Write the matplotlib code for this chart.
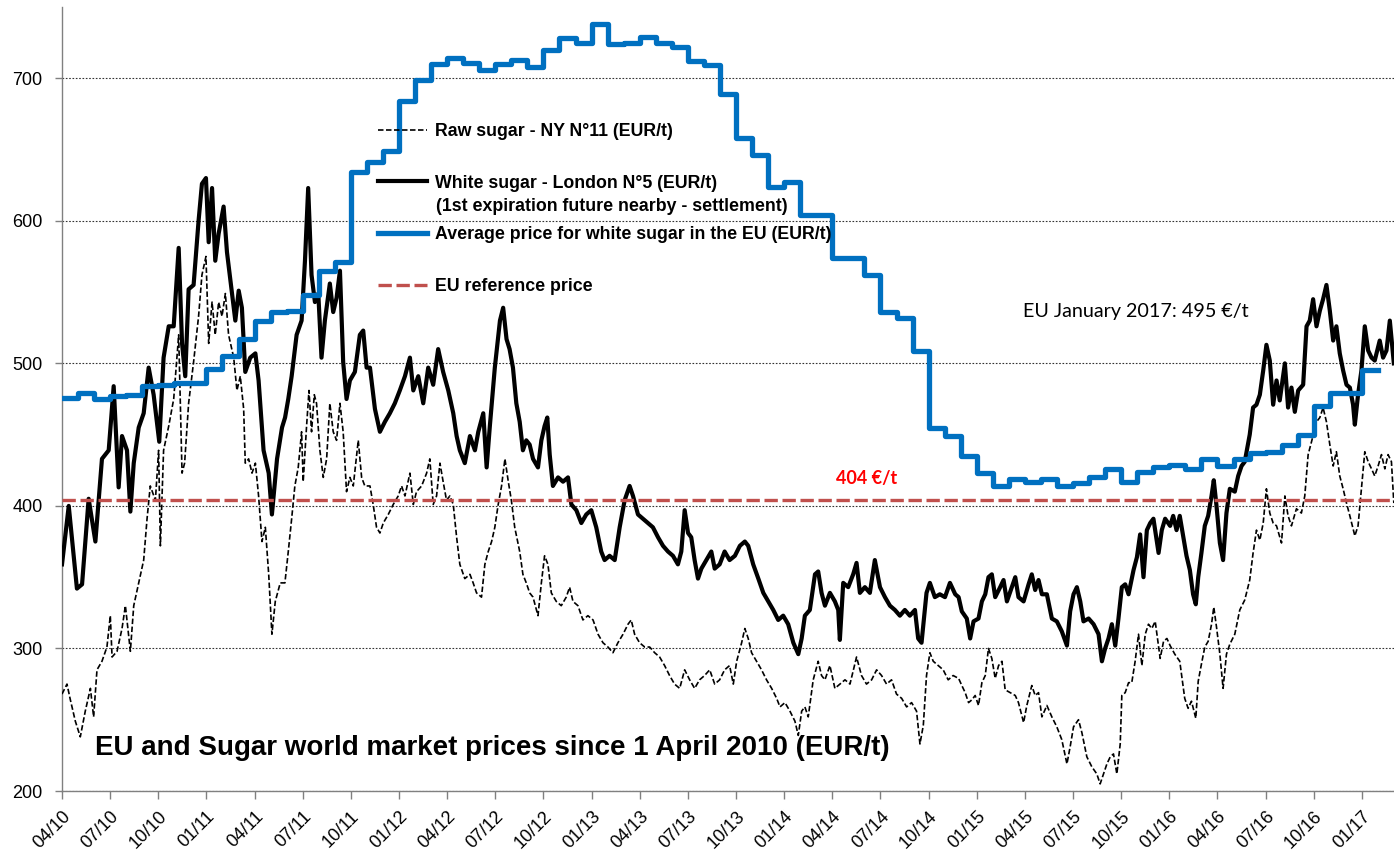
import matplotlib
matplotlib.use('Agg')
import matplotlib.pyplot as plt

plt.rcParams['font.family'] = ['Liberation Sans', 'DejaVu Sans']

# x positions are months since 1 April 2010 (0 = 04/10)
tick_months = list(range(0, 82, 3))
tick_labels = ['04/10', '07/10', '10/10', '01/11', '04/11', '07/11', '10/11',
               '01/12', '04/12', '07/12', '10/12', '01/13', '04/13', '07/13',
               '10/13', '01/14', '04/14', '07/14', '10/14', '01/15', '04/15',
               '07/15', '10/15', '01/16', '04/16', '07/16', '10/16', '01/17']

# monthly EU average price for white sugar, Apr 2010 .. Jan 2017
eu_avg = [476, 479, 475, 477, 478, 484, 485, 486, 486, 496,
          505, 517, 530, 536, 537, 548, 565, 571, 634, 641,
          649, 684, 699, 710, 714, 711, 706, 710, 713, 708,
          720, 728, 725, 738, 724, 725, 729, 725, 722, 712,
          709, 689, 658, 646, 624, 627, 604, 604, 574, 574,
          562, 536, 532, 509, 455, 449, 435, 423, 414, 419,
          417, 419, 414, 416, 420, 426, 417, 424, 427, 429,
          426, 433, 428, 433, 437, 438, 443, 450, 470, 479,
          479, 495]

ref_price = 404

# white sugar London N°5
white_m = [0.00, 0.42, 0.93, 1.25, 1.66, 2.08, 2.49, 2.91, 3.22, 3.53, 3.74, 4.05, 4.26, 4.47, 4.78,
           5.09, 5.40, 5.71, 6.06, 6.33, 6.65, 6.96, 7.27, 7.48, 7.68, 7.89, 8.20, 8.51, 8.72, 8.97,
           9.14, 9.35, 9.55, 9.76, 10.07, 10.28, 10.59, 10.80, 11.01, 11.21, 11.42, 11.73, 12.05, 12.25, 12.56,
           12.88, 13.08, 13.40, 13.71, 13.90, 14.10, 14.31, 14.62, 14.93, 15.14, 15.34, 15.55, 15.76, 15.97, 16.17,
           16.38, 16.69, 16.90, 17.11, 17.32, 17.52, 17.73, 17.94, 18.25, 18.56, 18.77, 18.98, 19.19, 19.50, 19.81,
           20.12, 20.43, 20.74, 21.05, 21.37, 21.68, 21.89, 22.20, 22.51, 22.82, 23.13, 23.44, 23.75, 24.07, 24.38,
           24.59, 24.79, 25.10, 25.42, 25.73, 25.94, 26.25, 26.46, 26.66, 26.97, 27.29, 27.49, 27.70, 27.89, 28.10,
           28.31, 28.52, 28.72, 28.93, 29.14, 29.35, 29.66, 29.87, 30.07, 30.24, 30.39, 30.59, 30.91, 31.22, 31.53,
           31.74, 32.05, 32.36, 32.67, 32.98, 33.29, 33.60, 33.81, 34.12, 34.44, 34.75, 35.06, 35.37, 35.58, 35.89,
           36.20, 36.51, 36.82, 37.14, 37.45, 37.76, 38.07, 38.38, 38.59, 38.80, 39.01, 39.21, 39.42, 39.63, 39.84,
           40.15, 40.46, 40.67, 40.98, 41.29, 41.60, 41.93, 42.24, 42.55, 42.76, 43.07, 43.39, 43.70, 44.01, 44.32,
           44.63, 44.94, 45.25, 45.57, 45.88, 46.09, 46.29, 46.60, 46.92, 47.12, 47.33, 47.54, 47.85, 48.16, 48.37,
           48.47, 48.68, 48.99, 49.30, 49.51, 49.72, 50.03, 50.34, 50.65, 50.97, 51.28, 51.59, 51.90, 52.21, 52.52,
           52.83, 53.15, 53.35, 53.56, 53.87, 54.08, 54.39, 54.70, 55.02, 55.33, 55.66, 55.87, 56.07, 56.38, 56.59,
           56.80, 57.11, 57.32, 57.53, 57.73, 57.94, 58.15, 58.46, 58.67, 58.88, 59.19, 59.40, 59.60, 59.92, 60.23,
           60.43, 60.64, 60.85, 61.06, 61.37, 61.68, 61.99, 62.30, 62.62, 62.82, 63.03, 63.24, 63.45, 63.65, 63.97,
           64.28, 64.59, 64.80, 65.00, 65.21, 65.42, 65.63, 65.83, 66.04, 66.25, 66.46, 66.77, 66.98, 67.18, 67.39,
           67.60, 67.81, 68.01, 68.33, 68.53, 68.74, 69.05, 69.24, 69.45, 69.65, 69.86, 70.07, 70.28, 70.48, 70.65,
           70.80, 71.00, 71.21, 71.42, 71.63, 71.77, 71.94, 72.15, 72.35, 72.56, 72.77, 73.08, 73.29, 73.50, 73.70,
           74.01, 74.22, 74.43, 74.64, 74.85, 75.05, 75.26, 75.47, 75.68, 75.88, 76.20, 76.40, 76.61, 76.82, 77.03,
           77.34, 77.55, 77.75, 77.96, 78.17, 78.38, 78.58, 78.79, 79.00, 79.21, 79.41, 79.62, 79.83, 80.04, 80.25,
           80.45, 80.56, 80.76, 80.97, 81.18, 81.39, 81.60, 81.80, 82.11, 82.32, 82.53, 82.74, 82.99]
white_v = [359, 400, 342, 345, 405, 375, 433, 439, 484, 413, 449, 439, 396, 430, 455,
           465, 497, 478, 445, 504, 526, 526, 581, 514, 491, 552, 555, 600, 626, 630,
           585, 623, 572, 591, 610, 578, 549, 530, 551, 539, 494, 504, 507, 488, 439,
           423, 394, 433, 455, 462, 475, 491, 520, 530, 572, 623, 562, 543, 549, 504,
           530, 556, 536, 546, 565, 501, 475, 488, 494, 520, 523, 497, 497, 468, 452,
           459, 465, 472, 481, 491, 504, 481, 491, 472, 497, 485, 510, 494, 481, 465,
           449, 439, 430, 449, 439, 452, 465, 427, 456, 497, 530, 539, 517, 510, 497,
           472, 459, 439, 446, 443, 433, 427, 446, 456, 462, 436, 414, 420, 417, 420,
           401, 397, 388, 394, 397, 385, 368, 362, 365, 362, 385, 404, 414, 407, 394,
           391, 388, 385, 378, 372, 368, 365, 359, 368, 397, 381, 378, 362, 349, 356,
           362, 368, 356, 359, 368, 362, 365, 372, 375, 372, 359, 349, 339, 333, 327,
           320, 323, 317, 304, 296, 307, 323, 327, 352, 354, 339, 330, 339, 333, 327,
           306, 346, 343, 352, 360, 339, 343, 339, 362, 343, 336, 330, 327, 323, 327,
           323, 327, 307, 304, 339, 346, 336, 338, 336, 346, 338, 336, 326, 321, 307,
           319, 321, 333, 338, 350, 352, 336, 343, 348, 333, 343, 350, 336, 333, 345,
           352, 341, 348, 338, 338, 321, 319, 312, 302, 326, 338, 343, 333, 319, 321,
           317, 310, 291, 300, 307, 317, 302, 321, 343, 345, 338, 355, 364, 380, 350,
           383, 388, 391, 367, 383, 391, 386, 393, 383, 393, 379, 365, 355, 338, 331,
           350, 367, 386, 393, 407, 418, 400, 374, 362, 395, 412, 410, 421, 428, 431,
           450, 469, 471, 478, 495, 513, 502, 471, 488, 474, 500, 469, 483, 466, 481,
           485, 526, 530, 545, 526, 537, 545, 555, 537, 516, 526, 507, 495, 485, 483,
           471, 457, 478, 495, 526, 509, 504, 502, 516, 504, 509, 530, 500]

# raw sugar NY N°11
raw_m = [0.00, 0.31, 0.52, 0.83, 1.14, 1.45, 1.77, 1.97, 2.18, 2.49, 2.80, 3.01, 3.12, 3.43, 3.74,
         3.95, 4.26, 4.47, 4.78, 5.09, 5.30, 5.50, 5.82, 6.02, 6.13, 6.33, 6.65, 6.96, 7.27, 7.48,
         7.64, 7.89, 8.20, 8.51, 8.72, 8.97, 9.14, 9.35, 9.55, 9.76, 9.97, 10.18, 10.38, 10.70, 10.90,
         11.11, 11.32, 11.42, 11.63, 11.84, 12.05, 12.25, 12.46, 12.67, 12.88, 13.08, 13.29, 13.60, 13.89, 14.10,
         14.31, 14.51, 14.72, 14.93, 15.03, 15.24, 15.39, 15.55, 15.72, 15.86, 16.07, 16.28, 16.49, 16.69, 16.90,
         17.11, 17.32, 17.52, 17.73, 17.94, 18.15, 18.46, 18.67, 18.87, 19.19, 19.39, 19.60, 19.81, 20.02, 20.33,
         20.64, 20.95, 21.16, 21.37, 21.68, 21.89, 22.09, 22.41, 22.72, 22.92, 23.13, 23.34, 23.55, 23.75, 23.96,
         24.17, 24.38, 24.59, 24.79, 25.10, 25.42, 25.62, 25.83, 26.14, 26.35, 26.56, 26.77, 26.97, 27.18, 27.39,
         27.60, 27.81, 28.00, 28.21, 28.52, 28.72, 28.93, 29.14, 29.35, 29.66, 29.87, 30.07, 30.28, 30.49, 30.80,
         31.11, 31.42, 31.63, 31.84, 32.15, 32.46, 32.77, 33.09, 33.40, 33.71, 34.02, 34.33, 34.64, 34.96, 35.27,
         35.47, 35.68, 35.99, 36.31, 36.62, 36.93, 37.24, 37.55, 37.86, 38.17, 38.49, 38.80, 39.11, 39.42, 39.73,
         40.04, 40.36, 40.67, 40.98, 41.29, 41.60, 41.83, 42.04, 42.35, 42.55, 42.76, 42.97, 43.28, 43.59, 43.90,
         44.22, 44.53, 44.74, 45.05, 45.36, 45.67, 45.88, 46.09, 46.29, 46.50, 46.81, 47.12, 47.33, 47.54, 47.85,
         48.16, 48.47, 48.79, 49.10, 49.51, 49.82, 50.13, 50.45, 50.76, 51.07, 51.38, 51.69, 52.00, 52.32, 52.63,
         52.94, 53.25, 53.46, 53.67, 53.87, 54.08, 54.29, 54.60, 54.91, 55.22, 55.53, 55.87, 56.07, 56.28, 56.49,
         56.70, 56.90, 57.11, 57.32, 57.53, 57.73, 57.94, 58.15, 58.36, 58.57, 58.77, 59.08, 59.40, 59.60, 59.92,
         60.12, 60.43, 60.64, 60.85, 61.06, 61.37, 61.68, 61.99, 62.30, 62.62, 62.82, 63.03, 63.34, 63.55, 63.86,
         64.17, 64.48, 64.69, 64.90, 65.11, 65.32, 65.52, 65.73, 65.94, 66.04, 66.25, 66.46, 66.66, 66.87, 67.08,
         67.29, 67.50, 67.70, 67.91, 68.12, 68.43, 68.64, 68.85, 69.05, 69.34, 69.65, 69.96, 70.17, 70.38, 70.65,
         70.80, 71.00, 71.21, 71.42, 71.63, 71.77, 71.94, 72.15, 72.35, 72.56, 72.77, 73.08, 73.39, 73.70, 74.01,
         74.22, 74.43, 74.64, 74.85, 75.05, 75.26, 75.47, 75.68, 75.99, 76.20, 76.40, 76.61, 76.92, 77.23, 77.44,
         77.65, 77.86, 78.17, 78.38, 78.58, 78.79, 79.00, 79.21, 79.41, 79.62, 79.83, 80.04, 80.25, 80.56, 80.76,
         80.97, 81.18, 81.39, 81.60, 81.80, 82.01, 82.22, 82.43, 82.63, 82.84, 82.99]
raw_v = [268, 275, 264, 249, 238, 256, 272, 252, 285, 291, 301, 323, 294, 298, 314,
         330, 298, 330, 346, 362, 391, 414, 404, 439, 372, 439, 456, 475, 520, 423,
         430, 472, 501, 533, 562, 575, 514, 543, 520, 543, 533, 549, 520, 504, 481,
         491, 468, 430, 433, 423, 430, 407, 375, 385, 352, 310, 333, 346, 346, 368,
         391, 414, 427, 452, 417, 456, 481, 452, 478, 472, 439, 420, 433, 472, 452,
         446, 472, 452, 410, 420, 414, 446, 420, 414, 414, 401, 385, 381, 388, 394,
         401, 407, 414, 407, 423, 401, 410, 414, 423, 433, 401, 407, 430, 417, 404,
         407, 401, 378, 359, 349, 352, 346, 339, 336, 359, 368, 375, 385, 401, 414,
         433, 417, 404, 385, 368, 352, 346, 339, 336, 323, 346, 365, 359, 339, 333,
         330, 336, 343, 333, 330, 320, 323, 320, 310, 304, 301, 297, 304, 310, 317,
         320, 310, 304, 301, 301, 297, 294, 288, 281, 275, 272, 285, 278, 272, 278,
         281, 285, 275, 278, 285, 288, 275, 291, 304, 314, 307, 297, 291, 285, 278,
         272, 265, 259, 262, 256, 249, 239, 256, 259, 252, 278, 291, 281, 278, 288,
         272, 275, 278, 275, 294, 281, 275, 278, 285, 281, 275, 278, 268, 265, 259,
         262, 256, 233, 246, 281, 297, 291, 288, 285, 278, 281, 279, 274, 269, 262,
         264, 267, 260, 276, 281, 300, 293, 279, 288, 291, 271, 269, 267, 262, 248,
         260, 274, 267, 269, 252, 260, 252, 245, 236, 219, 231, 245, 250, 241, 224,
         217, 212, 205, 212, 219, 224, 226, 212, 233, 267, 269, 276, 276, 291, 310,
         288, 310, 317, 314, 319, 293, 305, 307, 302, 296, 291, 265, 258, 263, 251,
         277, 289, 301, 305, 317, 329, 315, 296, 272, 296, 303, 310, 327, 334, 348,
         367, 383, 376, 388, 412, 395, 388, 386, 374, 407, 393, 386, 398, 395, 407,
         436, 445, 459, 462, 469, 459, 443, 428, 438, 421, 412, 402, 393, 379, 386,
         412, 438, 431, 426, 421, 428, 436, 426, 436, 431, 402]

fig = plt.figure(figsize=(13.94, 8.52), dpi=100)
ax = fig.add_axes([62 / 1394, 61 / 852, 1332 / 1394, 784 / 852])

raw_line, = ax.plot(raw_m, raw_v, color='black', lw=1.2, linestyle=(0, (3.3, 1.5)), zorder=3)
white_line, = ax.plot(white_m, white_v, color='black', lw=3.0, zorder=4,
                      solid_joinstyle='round')
eu_x = list(range(len(eu_avg) + 1))
eu_line, = ax.step(eu_x, eu_avg + [eu_avg[-1]], where='post', color='#0070C0', lw=3.8, zorder=5,
                   solid_joinstyle='round')
ref_line = ax.axhline(ref_price, color='#C0504D', lw=2.4, linestyle=(0, (4, 1.4)), zorder=6)

ax.set_xlim(0, 83)
ax.set_ylim(200, 750)
ax.set_yticks(range(200, 701, 100))
ax.set_xticks(tick_months)
ax.set_xticklabels(tick_labels, rotation=45, ha='right', va='top', rotation_mode='anchor')
ax.tick_params(axis='y', labelsize=13, length=5, width=1, color='#808080', pad=9)
ax.tick_params(axis='x', labelsize=13, length=6, width=1, color='#808080', pad=6)

ax.yaxis.grid(True, color='#333333', lw=0.8, linestyle=(0, (1.5, 1.5)))
ax.set_axisbelow(True)
for s in ['top', 'right']:
    ax.spines[s].set_visible(False)
for s in ['left', 'bottom']:
    ax.spines[s].set_color('#808080')
    ax.spines[s].set_linewidth(1)
    ax.spines[s].set_zorder(2)

leg = ax.legend(handles=[raw_line, white_line, eu_line, ref_line],
                labels=['Raw sugar - NY N°11 (EUR/t)',
                        'White sugar - London N°5 (EUR/t)',
                        'Average price for white sugar in the EU (EUR/t)',
                        'EU reference price'],
                loc='upper left', bbox_to_anchor=(0.237, 0.852), frameon=False,
                prop={'weight': 'bold', 'size': 12.8}, handlelength=2.8,
                handletextpad=0.4, labelspacing=1.95, borderpad=0, borderaxespad=0)
leg.set_zorder(10)
ax.text(0.2808, 0.745, '(1st expiration future nearby - settlement)', transform=ax.transAxes,
        fontsize=12.8, fontweight='bold', va='center', ha='left', zorder=10)

ax.text(0.0248, 0.055, 'EU and Sugar world market prices since 1 April 2010 (EUR/t)',
        transform=ax.transAxes, fontsize=20, fontweight='bold', va='center', ha='left')
ax.text(0.7215, 0.611, 'EU January 2017: 495 €/t', transform=ax.transAxes,
        fontsize=14.2, family=['Lato', 'DejaVu Sans'], va='center', ha='left')
ax.text(0.581, 0.399, '404 €/t', transform=ax.transAxes, color='#FF0000',
        fontsize=13, fontweight='bold', family=['Lato', 'DejaVu Sans'], va='center', ha='left')

fig.savefig('out.png', dpi=100)
